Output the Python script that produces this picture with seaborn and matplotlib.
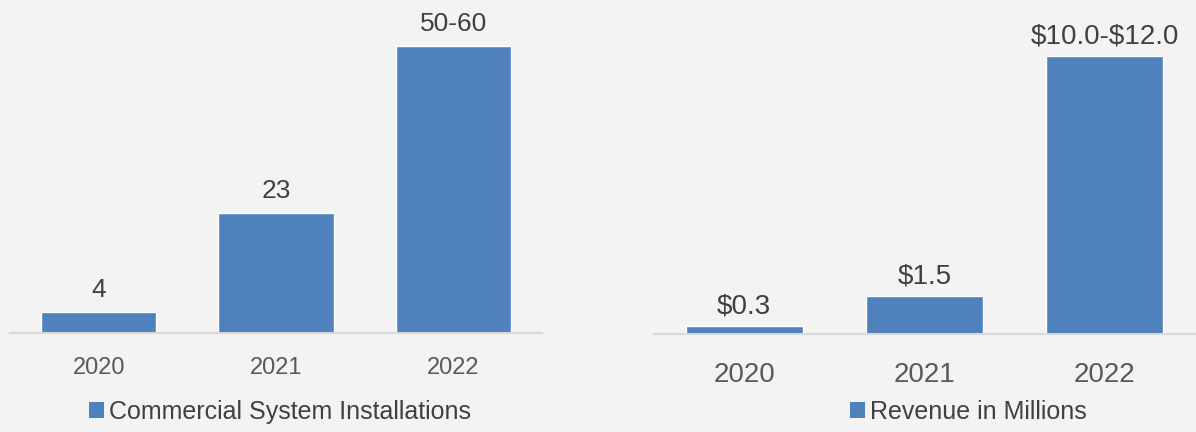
import matplotlib
matplotlib.use("Agg")
import matplotlib.pyplot as plt
import seaborn as sns
import pandas as pd
from matplotlib.patches import Patch

years = ["2020", "2021", "2022"]
installs = [4, 23, 55]
install_labels = ["4", "23", "50-60"]
revenue = [0.3, 1.5, 11.0]
revenue_labels = [r"\$0.3", r"\$1.5", r"\$10.0-\$12.0"]
left_legend = "Commercial System Installations"
right_legend = "Revenue in Millions"

sns.set_theme(style="white")
plt.rcParams["font.family"] = ["Liberation Sans", "DejaVu Sans"]

BG = "#f3f3f3"
BAR = "#4f81bd"
TXT = "#404040"
TICK = "#595959"
AX = "#d9d9d9"

W, H = 1196, 432
fig = plt.figure(figsize=(W / 100, H / 100), dpi=100, facecolor=BG)

def px_axes(x0, x1, ybase):
    return fig.add_axes([x0 / W, 1 - ybase / H, (x1 - x0) / W, ybase / H])

axL = px_axes(10, 542, 333)
axR = px_axes(654, 1195, 334)

dfL = pd.DataFrame({"year": years, "value": installs})
dfR = pd.DataFrame({"year": years, "value": revenue})

for ax, df, labels, ymax, tsize, lsize, pad, tpad, leg, legx in [
    (axL, dfL, install_labels, 333 / 5.22, 17, 19, 7, 17, left_legend, 280 / W),
    (axR, dfR, revenue_labels, 334 / 25.27, 20, 20, 5, 20, right_legend, 968 / W),
]:
    ax.set_facecolor(BG)
    sns.barplot(data=df, x="year", y="value", color=BAR, width=0.65,
                saturation=1, ax=ax)
    ax.set_xlim(-0.5, 2.5)
    ax.set_ylim(0, ymax)
    ax.bar_label(ax.containers[0], labels=labels, padding=pad,
                 fontsize=lsize, color=TXT)
    for s in ["top", "right", "left"]:
        ax.spines[s].set_visible(False)
    ax.spines["bottom"].set_color(AX)
    ax.spines["bottom"].set_linewidth(1.5)
    ax.set_yticks([])
    ax.set_xlabel("")
    ax.set_ylabel("")
    ax.tick_params(axis="x", length=0, labelsize=tsize, labelcolor=TICK, pad=tpad)
    fig.legend(handles=[Patch(facecolor=BAR, edgecolor="none", label=leg)],
               loc="center", bbox_to_anchor=(legx, 1 - 412 / H),
               frameon=False, fontsize=18, labelcolor=TXT,
               handlelength=0.6, handleheight=0.6, handletextpad=0.2,
               borderpad=0, borderaxespad=0)

fig.savefig("out.png", dpi=100, facecolor=BG)
